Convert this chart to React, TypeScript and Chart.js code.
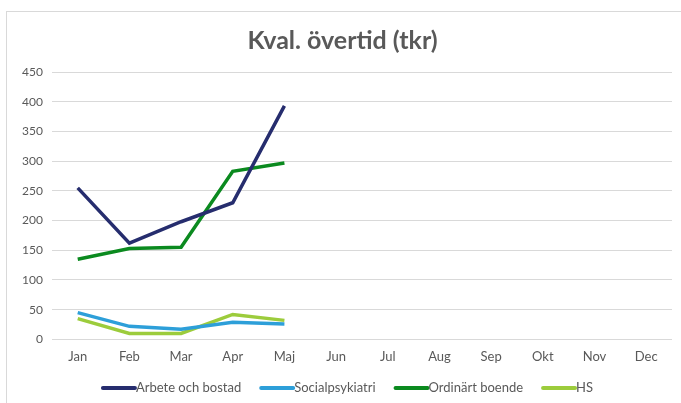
import React, { useEffect, useRef } from "react";
import { Chart, registerables } from "chart.js";

Chart.register(...registerables);

const months = ["Jan", "Feb", "Mar", "Apr", "Maj", "Jun", "Jul", "Aug", "Sep", "Okt", "Nov", "Dec"];
const arbete = [255, 162, 198, 230, 393, null, null, null, null, null, null, null];
const social = [45, 22, 17, 29, 26, null, null, null, null, null, null, null];
const ordinart = [135, 153, 155, 283, 297, null, null, null, null, null, null, null];
const hs = [35, 10, 10, 42, 32, null, null, null, null, null, null, null];
const yTicks = [0, 50, 100, 150, 200, 250, 300, 350, 400, 450];

const LEGEND_FONT = "13px Lato";
const TEXT_COLOR = "#595959";

const lineLegend = {
  id: "lineLegend",
  afterDraw(chart: any) {
    const ctx = chart.ctx as CanvasRenderingContext2D;
    const lineLen = 35;
    const gap = 18;
    ctx.save();
    ctx.font = LEGEND_FONT;
    const items = chart.data.datasets.map((d: any) => ({
      label: d.label as string,
      color: d.borderColor as string,
      w: ctx.measureText(d.label).width,
    }));
    const total = items.reduce((s: number, it: any) => s + lineLen + it.w, 0) + gap * (items.length - 1);
    let x = chart.width / 2 + 3 - total / 2;
    const y = chart.height - 14;
    ctx.textBaseline = "middle";
    ctx.textAlign = "left";
    for (const it of items) {
      ctx.strokeStyle = it.color;
      ctx.lineWidth = 4;
      ctx.lineCap = "round";
      ctx.beginPath();
      ctx.moveTo(x + 2, y);
      ctx.lineTo(x + lineLen - 1, y);
      ctx.stroke();
      ctx.fillStyle = TEXT_COLOR;
      ctx.fillText(it.label, x + lineLen, y);
      x += lineLen + it.w + gap;
    }
    ctx.restore();
  },
};

export default function App() {
  const ref = useRef<HTMLCanvasElement | null>(null);
  useEffect(() => {
    if (!ref.current) return;
    const ds = (label: string, data: (number | null)[], color: string) => ({
      label,
      data,
      borderColor: color,
      backgroundColor: color,
      borderWidth: 3.5,
      pointRadius: 0,
      tension: 0,
      fill: false,
    });
    const chart = new Chart(ref.current, {
      type: "line",
      data: {
        labels: months,
        datasets: [
          ds("Arbete och bostad", arbete, "#262d6e"),
          ds("Socialpsykiatri", social, "#2d9fd9"),
          ds("Ordinärt boende", ordinart, "#0b8a1f"),
          ds("HS", hs, "#9ccc3c"),
        ],
      },
      plugins: [lineLegend],
      options: {
        animation: false,
        responsive: false,
        devicePixelRatio: 1,
        layout: { padding: { left: 6, right: 9, top: 6, bottom: 27 } },
        plugins: {
          title: {
            display: true,
            text: "Kval. övertid (tkr)",
            color: TEXT_COLOR,
            font: { family: "Lato", size: 25, weight: "bold" },
            padding: { top: 8, bottom: 16 },
          },
          legend: { display: false },
          tooltip: { enabled: false },
        },
        scales: {
          x: {
            offset: true,
            grid: { display: false, drawTicks: false },
            border: { display: false },
            ticks: { color: TEXT_COLOR, font: { family: "Lato", size: 13 }, padding: 10 },
          },
          y: {
            min: 0,
            max: 450,
            afterBuildTicks: (axis: any) => {
              axis.ticks = yTicks.map((v) => ({ value: v }));
            },
            grid: { color: "#d9d9d9", drawTicks: false },
            border: { display: false },
            ticks: { color: TEXT_COLOR, font: { family: "Lato", size: 12 }, padding: 9 },
          },
        },
      },
    });
    return () => chart.destroy();
  }, []);
  return (
    <div style={{ position: "fixed", left: 0, top: 0, width: 681, height: 403, background: "#fff", overflow: "hidden" }}>
      <div
        style={{
          position: "absolute",
          left: 6,
          top: 11,
          width: 690,
          height: 400,
          border: "1px solid #d9d9d9",
          boxSizing: "border-box",
        }}
      >
        <canvas ref={ref} width={674} height={390} style={{ display: "block" }} />
      </div>
    </div>
  );
}
